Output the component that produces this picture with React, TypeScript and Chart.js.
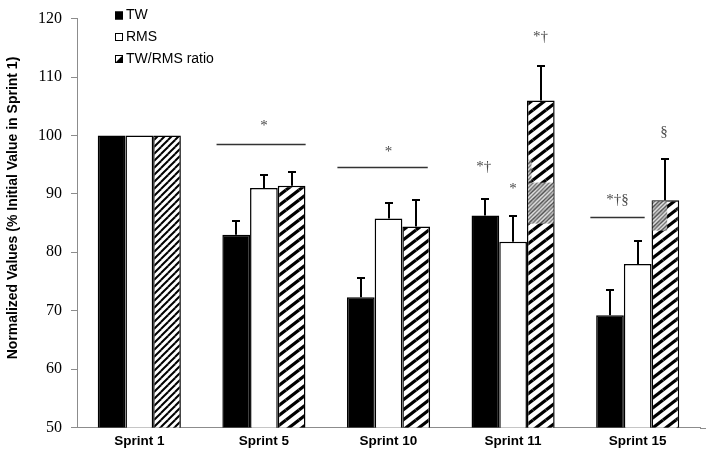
import React, { useEffect, useRef } from "react";
import { Chart, registerables } from "chart.js";

Chart.register(...registerables);

const categories = ["Sprint 1", "Sprint 5", "Sprint 10", "Sprint 11", "Sprint 15"];
const seriesLabels = ["TW", "RMS", "TW/RMS ratio"];
const twValues = [100, 83.0, 72.3, 86.3, 69.2];
const rmsValues = [100, 91.0, 85.8, 81.8, 78.0];
const ratioValues = [100, 91.4, 84.4, 106.0, 88.9];
const twErrors = [0, 2.4, 3.3, 2.8, 4.4];
const rmsErrors = [0, 2.2, 2.7, 4.4, 3.9];
const ratioErrors = [0, 2.3, 4.6, 5.8, 7.1];
const yMin = 50;
const yMax = 120;
const yStep = 10;
const yTitle = "Normalized Values (% Initial Value in Sprint 1)";

// significance lines (category index, value, start/end offset in category widths)
const sigCats = [1, 2, 4];
const sigValues = [98.6, 94.6, 86.1];
const sigFrom = [-0.38, -0.41, -0.38];
const sigTo = [0.335, 0.315, 0.056];

// annotation symbols
const annoTexts = ["*", "*", "*†", "*", "*†", "*†§", "§"];
const annoCats = [1, 2, 3, 3, 3, 4, 4];
const annoOffsets = [0, 0, -0.235, 0.0, 0.22, -0.163, 0.212];
const annoValues = [101.6, 97.2, 94.5, 90.8, 116.8, 89.0, 100.6];

// grey scan artefacts on the hatched bars (category, value range, fraction of bar width)
const patchCats = [3, 3, 4];
const patchTop = [96.0, 92.1, 88.9];
const patchBottom = [92.1, 84.9, 83.7];
const patchFrom = [0, 0, 0];
const patchTo = [0.2, 1, 0.6];

function makeHatch(w: number, h: number, lw: number, color: string, bg: string) {
  const c = document.createElement("canvas");
  c.width = w;
  c.height = h;
  const g = c.getContext("2d")!;
  g.fillStyle = bg;
  g.fillRect(0, 0, w, h);
  g.strokeStyle = color;
  g.lineWidth = lw;
  for (let i = -1; i <= 1; i++) {
    for (let j = -1; j <= 1; j++) {
      g.beginPath();
      g.moveTo(i * w, h + j * h);
      g.lineTo(w + i * w, j * h);
      g.stroke();
    }
  }
  return g.createPattern(c, "repeat") as CanvasPattern;
}

export default function App() {
  const ref = useRef<HTMLCanvasElement | null>(null);

  useEffect(() => {
    const canvas = ref.current;
    if (!canvas) return;
    const fine = makeHatch(7, 7, 2, "#000", "#fff");
    const coarse = makeHatch(13, 10, 3.2, "#000", "#fff");
    const grey = makeHatch(4, 4, 1.4, "#666", "#d8d8d8");
    const errs = [twErrors, rmsErrors, ratioErrors];

    const overlay = {
      id: "overlay",
      afterDatasetsDraw(chart: any) {
        const ctx = chart.ctx as CanvasRenderingContext2D;
        const xs = chart.scales.x;
        const ys = chart.scales.y;
        const area = chart.chartArea;
        const catW = xs.getPixelForValue(1) - xs.getPixelForValue(0);

        // artefact patches on the hatched bars
        const hatchMeta = chart.getDatasetMeta(2);
        ctx.save();
        patchCats.forEach((c, i) => {
          const el = hatchMeta.data[c];
          const left = el.x - el.width / 2;
          const x0 = left + el.width * patchFrom[i] + 1;
          const x1 = left + el.width * patchTo[i] - 1;
          const y0 = ys.getPixelForValue(patchTop[i]) + 1;
          const y1 = ys.getPixelForValue(patchBottom[i]);
          ctx.fillStyle = grey;
          ctx.globalAlpha = 0.85;
          ctx.fillRect(x0, y0, x1 - x0, y1 - y0);
        });
        ctx.restore();

        // error bars
        ctx.save();
        ctx.strokeStyle = "#000";
        ctx.lineWidth = 2;
        errs.forEach((arr, di) => {
          const meta = chart.getDatasetMeta(di);
          const vals = chart.data.datasets[di].data as number[];
          meta.data.forEach((el: any, i: number) => {
            const e = arr[i];
            if (!e) return;
            const yTop = Math.round(ys.getPixelForValue(vals[i] + e));
            const x = Math.round(el.x);
            ctx.beginPath();
            ctx.moveTo(x, el.y);
            ctx.lineTo(x, yTop);
            ctx.moveTo(x - 4, yTop);
            ctx.lineTo(x + 4, yTop);
            ctx.stroke();
          });
        });
        ctx.restore();

        // significance lines
        ctx.save();
        ctx.strokeStyle = "#333";
        ctx.lineWidth = 1.4;
        sigCats.forEach((c, i) => {
          const cx = xs.getPixelForValue(c);
          const y = Math.round(ys.getPixelForValue(sigValues[i])) + 0.5;
          ctx.beginPath();
          ctx.moveTo(cx + sigFrom[i] * catW, y);
          ctx.lineTo(cx + sigTo[i] * catW, y);
          ctx.stroke();
        });
        ctx.restore();

        // annotation symbols
        ctx.save();
        ctx.fillStyle = "#4a4a4a";
        ctx.font = "15px 'Liberation Serif', serif";
        ctx.textAlign = "center";
        ctx.textBaseline = "middle";
        annoTexts.forEach((t, i) => {
          const cx = xs.getPixelForValue(annoCats[i]) + annoOffsets[i] * catW;
          ctx.fillText(t, cx, ys.getPixelForValue(annoValues[i]));
        });
        ctx.restore();

        // x-axis line extension to the right edge
        ctx.save();
        ctx.strokeStyle = "#8c8c8c";
        ctx.lineWidth = 1;
        ctx.beginPath();
        const by = Math.round(area.bottom) + 0.5;
        ctx.moveTo(area.right, by);
        ctx.lineTo(chart.width, by);
        ctx.stroke();
        ctx.restore();

        // y-axis title
        ctx.save();
        ctx.translate(13, 208);
        ctx.rotate(-Math.PI / 2);
        ctx.fillStyle = "#000";
        ctx.font = "bold 14px 'Liberation Sans', Arial, sans-serif";
        ctx.textAlign = "center";
        ctx.textBaseline = "middle";
        ctx.fillText(yTitle, 0, 0);
        ctx.restore();

        // legend
        ctx.save();
        const lx = 115;
        const rows = [15.5, 37, 59];
        ctx.font = "14px 'Liberation Sans', Arial, sans-serif";
        ctx.textBaseline = "middle";
        ctx.textAlign = "left";
        rows.forEach((ry, i) => {
          const s = 8;
          const top = ry - s / 2;
          ctx.fillStyle = "#fff";
          ctx.fillRect(lx, top, s, s);
          ctx.fillStyle = "#000";
          if (i === 0) ctx.fillRect(lx, top, s, s);
          if (i === 2) {
            ctx.beginPath();
            ctx.moveTo(lx + s, top);
            ctx.lineTo(lx + s, top + s);
            ctx.lineTo(lx, top + s);
            ctx.closePath();
            ctx.fill();
          }
          ctx.strokeStyle = "#000";
          ctx.lineWidth = 1;
          ctx.strokeRect(lx + 0.5, top + 0.5, s - 1, s - 1);
          ctx.fillStyle = "#000";
          ctx.fillText(seriesLabels[i], lx + 11, ry);
        });
        ctx.restore();
      },
    };

    const chart = new Chart(canvas, {
      type: "bar",
      data: {
        labels: categories,
        datasets: [
          {
            label: seriesLabels[0],
            data: twValues,
            backgroundColor: "#000",
            borderColor: "#000",
            borderWidth: 1.5,
          },
          {
            label: seriesLabels[1],
            data: rmsValues,
            backgroundColor: "#fff",
            borderColor: "#000",
            borderWidth: 1.5,
          },
          {
            label: seriesLabels[2],
            data: ratioValues,
            backgroundColor: [fine, coarse, coarse, coarse, coarse],
            borderColor: "#000",
            borderWidth: 1.5,
          },
        ],
      },
      options: {
        animation: false,
        responsive: false,
        maintainAspectRatio: false,
        layout: { padding: { top: 12.7, right: 6, left: 0, bottom: 0 } },
        datasets: {
          bar: { categoryPercentage: 0.667, barPercentage: 1 },
        },
        plugins: {
          legend: { display: false },
          tooltip: { enabled: false },
        },
        scales: {
          x: {
            afterFit: (s: any) => {
              s.height = 29.5;
            },
            grid: { display: true, drawOnChartArea: false, drawTicks: false },
            border: { color: "#8c8c8c", width: 1 },
            ticks: {
              color: "#000",
              padding: 6,
              font: { family: "'Liberation Sans', Arial, sans-serif", size: 13.5, weight: "bold" },
            },
          },
          y: {
            min: yMin,
            max: yMax,
            afterFit: (s: any) => {
              s.width = 77;
            },
            grid: { drawOnChartArea: false, drawTicks: true, tickLength: 6, color: "#8c8c8c" },
            border: { color: "#8c8c8c", width: 1 },
            ticks: {
              stepSize: yStep,
              color: "#000",
              padding: 9,
              font: { family: "'Liberation Serif', 'Times New Roman', serif", size: 16 },
            },
            title: { display: false },
          },
        },
      },
      plugins: [overlay],
    } as any);

    return () => chart.destroy();
  }, []);

  return (
    <div style={{ position: "absolute", left: 0, top: 0, width: 706, height: 457, background: "#fff" }}>
      <canvas ref={ref} width={706} height={457} />
    </div>
  );
}
